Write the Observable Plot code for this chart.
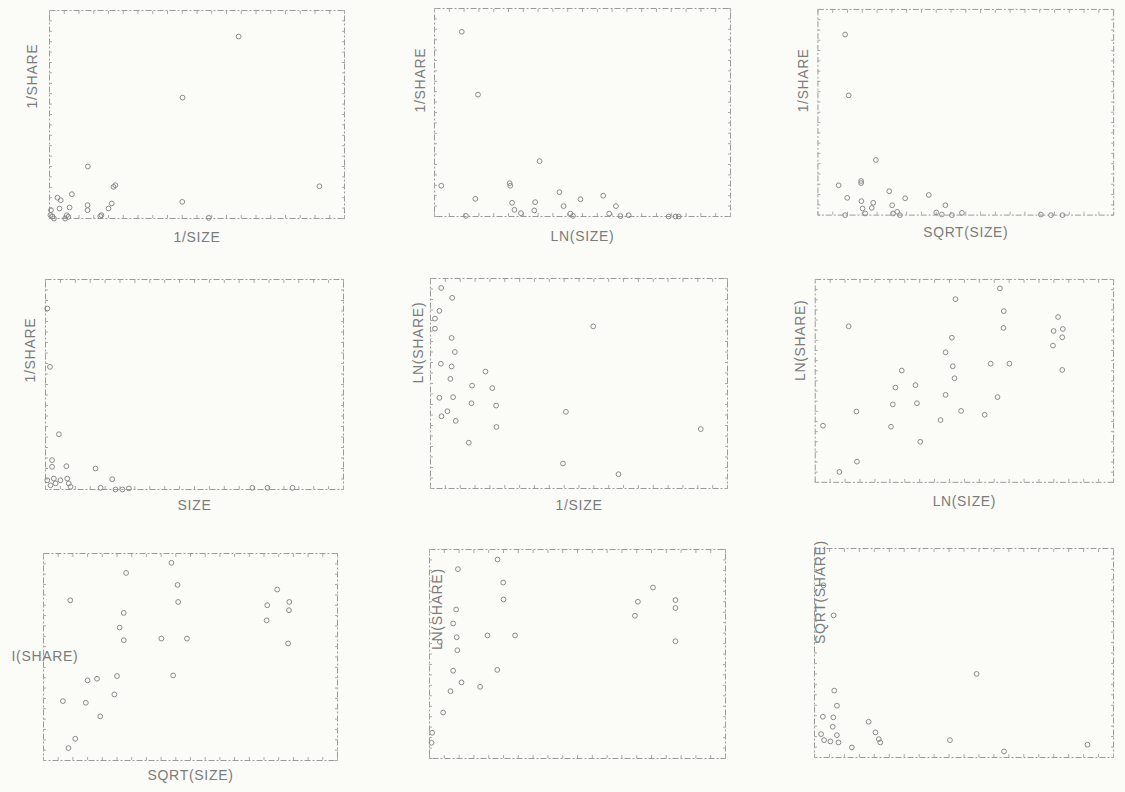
<!DOCTYPE html>
<html>
<head>
<meta charset="utf-8">
<script src="https://cdn.jsdelivr.net/npm/d3@7"></script>
<script src="https://cdn.jsdelivr.net/npm/@observablehq/plot@0.6"></script>
<style>
  html, body { margin: 0; padding: 0; background: #fbfbf8; overflow: hidden; }
  #root { position: relative; width: 1125px; height: 792px; }
  .cell { position: absolute; }
  .cell svg { background: transparent !important; overflow: visible; }
  .cell svg text.lbl, .cell svg g.lbl text { letter-spacing: 0.7px; }
</style>
</head>
<body>
<div id="root"></div>
<script>
// Values, as percent of each panel's frame (0-100).
// Panel 1: 1/SHARE vs 1/SIZE
const p1x = [64.1, 45.1, 91.5, 54.0, 22.3, 21.7, 13.0, 45.0, 7.6, 2.7, 3.8, 6.8, 12.9, 12.9, 21.1, 20.0, 17.6, 17.2, 0.5, 1.0, 1.5, 5.9, 6.4, 5.3, 3.4, 0.3];
const p1y = [87.5, 58.1, 15.5, 0.3, 16.0, 15.2, 25.0, 8.0, 11.7, 10.0, 8.8, 5.3, 6.4, 4.0, 7.2, 4.8, 1.6, 1.1, 4.0, 1.0, 0.0, 1.6, 0.8, 0.0, 4.8, 1.6];
// Panel 2: 1/SHARE vs LN(SIZE)
const p2x = [9.2, 14.7, 35.5, 2.3, 25.4, 25.6, 13.8, 26.2, 27.0, 29.2, 10.6, 34.0, 33.7, 42.2, 43.6, 45.9, 46.8, 49.3, 57.0, 61.3, 59.0, 62.8, 65.6, 79.1, 81.4, 82.5];
const p2y = [88.8, 58.6, 26.6, 14.8, 16.0, 14.8, 8.5, 6.6, 3.2, 1.6, 0.3, 6.9, 2.9, 11.7, 5.0, 1.4, 0.3, 8.3, 10.0, 5.0, 1.4, 0.2, 0.6, 0.0, 0.0, 0.0];
// Panel 3: 1/SHARE vs SQRT(SIZE)
const p3x = [9.2, 10.4, 19.6, 7.0, 14.6, 14.6, 9.9, 24.1, 29.5, 37.5, 43.1, 18.7, 18.2, 15.1, 16.0, 25.1, 25.4, 26.8, 27.7, 9.2, 40.0, 41.9, 45.3, 48.7, 75.4, 78.8, 82.7, 14.7];
const p3y = [87.8, 58.2, 26.8, 14.5, 16.6, 15.6, 8.4, 11.6, 8.2, 9.8, 4.8, 6.0, 3.5, 3.2, 0.8, 4.8, 0.8, 1.6, 0.0, 0.0, 1.3, 0.3, 0.0, 1.1, 0.3, 0.0, 0.0, 6.8];
// Panel 4: 1/SHARE vs SIZE
const p4x = [0.6, 1.5, 4.5, 7.0, 2.2, 2.2, 0.6, 1.7, 2.8, 3.4, 7.3, 7.8, 8.4, 18.5, 22.4, 23.5, 25.8, 28.0, 16.8, 69.4, 74.5, 82.9, 5.0];
const p4y = [86.2, 58.4, 26.3, 11.1, 14.0, 10.8, 4.4, 2.0, 5.2, 2.9, 5.2, 2.9, 1.3, 0.8, 4.9, 0.0, 0.0, 0.5, 10.0, 0.8, 0.8, 0.8, 4.4];
// Panel 5: LN(SHARE) vs 1/SIZE
const p5x = [3.6, 7.3, 3.0, 1.5, 1.5, 7.1, 8.2, 3.5, 7.1, 6.7, 18.5, 14.0, 20.8, 3.0, 7.6, 13.8, 22.1, 5.7, 3.7, 8.5, 22.2, 12.9, 45.6, 54.8, 44.6, 63.3, 91.0];
const p5y = [95.5, 90.8, 84.6, 80.9, 76.1, 71.7, 65.0, 59.4, 58.1, 52.2, 55.7, 49.0, 47.8, 43.2, 43.5, 40.6, 39.5, 36.8, 34.4, 32.2, 29.3, 21.8, 36.5, 77.2, 11.9, 6.8, 28.3];
// Panel 6: LN(SHARE) vs LN(SIZE)
const p6x = [61.9, 47.0, 63.2, 81.4, 11.2, 63.1, 79.9, 83.0, 82.8, 45.8, 79.7, 43.7, 58.8, 65.1, 46.1, 29.0, 82.8, 46.7, 33.6, 26.9, 43.7, 61.1, 26.0, 34.1, 13.8, 48.9, 56.8, 42.0, 2.6, 25.4, 35.2, 14.0, 8.1];
const p6y = [95.6, 90.3, 84.4, 81.5, 76.9, 76.1, 74.6, 75.6, 71.5, 71.3, 67.4, 64.1, 58.5, 58.5, 57.2, 55.1, 55.4, 51.3, 47.9, 46.7, 43.1, 42.0, 38.4, 39.0, 34.9, 35.2, 33.3, 30.7, 27.9, 27.4, 20.0, 10.2, 5.1];
// Panel 7: LN(SHARE) vs SQRT(SIZE)
const p7x = [43.5, 28.1, 45.6, 79.5, 9.1, 45.8, 83.6, 76.1, 83.5, 27.3, 75.9, 25.9, 27.3, 40.1, 48.8, 83.2, 25.0, 44.1, 15.0, 18.2, 24.1, 6.6, 14.4, 19.3, 10.8, 8.5];
const p7y = [95.5, 90.6, 84.8, 82.6, 77.4, 76.6, 76.6, 75.0, 72.6, 71.3, 67.7, 64.2, 58.1, 58.9, 58.9, 56.5, 40.8, 41.1, 38.7, 39.5, 31.9, 28.7, 27.9, 21.3, 10.5, 6.0];
// Panel 8: LN(SHARE) vs SIZE
const p8x = [23.0, 9.6, 24.9, 75.5, 25.0, 70.4, 83.1, 83.1, 9.0, 69.4, 8.0, 19.6, 28.9, 9.2, 83.1, 3.5, 9.4, 22.9, 8.0, 10.8, 17.1, 7.1, 4.6, 0.9, 0.7];
const p8y = [95.2, 90.6, 84.2, 81.8, 76.1, 75.0, 75.8, 72.0, 71.3, 68.3, 64.6, 58.9, 58.9, 58.0, 56.1, 55.8, 51.8, 42.4, 42.0, 36.4, 34.3, 32.2, 22.0, 12.3, 7.5];
// Panel 9: SQRT(SHARE) vs SIZE
const p9x = [3.0, 6.4, 54.2, 6.6, 7.5, 2.8, 6.3, 6.1, 18.1, 20.4, 21.5, 22.0, 2.2, 3.2, 7.5, 8.0, 5.3, 12.5, 45.3, 63.4, 91.3];
const p9y = [82.4, 68.0, 40.0, 32.0, 24.8, 19.5, 19.2, 14.7, 17.1, 12.0, 8.8, 7.2, 11.2, 8.3, 10.7, 7.2, 7.7, 4.8, 8.3, 2.9, 6.1];

const xLabels = ["1/SIZE", "LN(SIZE)", "SQRT(SIZE)", "SIZE", "1/SIZE", "LN(SIZE)", "SQRT(SIZE)", null, null];
const yLabels = ["1/SHARE", "1/SHARE", "1/SHARE", "1/SHARE", "LN(SHARE)", "LN(SHARE)", "I(SHARE)", "LN(SHARE)", "SQRT(SHARE)"];
const xs = [p1x, p2x, p3x, p4x, p5x, p6x, p7x, p8x, p9x];
const ys = [p1y, p2y, p3y, p4y, p5y, p6y, p7y, p8y, p9y];

// Layout (frame edges in page pixels) – styling only
const frames = [
  {L: 49, T: 10, W: 295, H: 208, xdy: 23, ydx: -17, ydy: -6},
  {L: 434, T: 8, W: 296, H: 208, xdy: 24, ydx: -14, ydy: 0},
  {L: 818, T: 9, W: 299, H: 208, xdy: 22, ydx: -15, ydy: 0},
  {L: 45, T: 279, W: 298, H: 210, xdy: 20, ydx: -15, ydy: -2},
  {L: 430, T: 278, W: 297, H: 210, xdy: 21, ydx: -12, ydy: 0},
  {L: 815, T: 279, W: 300, H: 204, xdy: 24, ydx: -15, ydy: 0},
  {L: 43, T: 553, W: 294, H: 207, xdy: 19, ydx: 0, ydy: 0, horiz: true},
  {L: 429, T: 549, W: 296, H: 209, xdy: 0, ydx: 8, ydy: -4},
  {L: 814, T: 548, W: 299, H: 209, xdy: 0, ydx: 6, ydy: -9}
];

const mL = 50, mR = 12, mT = 6, mB = 34;
const grey = "#8a8a8a";
const labelColor = "#7c7c7c";
const font = "Arial, 'Liberation Sans', sans-serif";
const root = document.getElementById("root");

frames.forEach((f, i) => {
  const data = xs[i].map((x, k) => ({x, y: ys[i][k]}));
  const marks = [
    Plot.frame({stroke: "#9a9a9a", strokeDasharray: "6,2,2,2", strokeWidth: 1}),
    Plot.axisX({anchor: "bottom", ticks: 18, tickSize: -3, tickFormat: () => "", label: null, stroke: "#aaa"}),
    Plot.axisX({anchor: "top", ticks: 18, tickSize: -3, tickFormat: () => "", label: null, stroke: "#aaa"}),
    Plot.axisY({anchor: "left", ticks: 24, tickSize: -3, tickFormat: () => "", label: null, stroke: "#aaa"}),
    Plot.axisY({anchor: "right", ticks: 24, tickSize: -3, tickFormat: () => "", label: null, stroke: "#aaa"}),
    Plot.dot(data, {x: "x", y: "y", r: 2.4, stroke: grey, strokeWidth: 1, fill: "none"})
  ];
  if (xLabels[i]) {
    marks.push(Plot.text([xLabels[i]], {frameAnchor: "bottom", dy: f.xdy, fontSize: 14, fill: labelColor, fontFamily: font, className: "lbl"}));
  }
  if (f.horiz) {
    marks.push(Plot.text([yLabels[i]], {frameAnchor: "left", textAnchor: "end", dx: 35, dy: 0, fontSize: 14, fill: labelColor, fontFamily: font, className: "lbl"}));
  } else {
    marks.push(Plot.text([yLabels[i]], {frameAnchor: "left", rotate: -90, dx: f.ydx, dy: f.ydy, fontSize: 14, fill: labelColor, fontFamily: font, className: "lbl"}));
  }
  const chart = Plot.plot({
    width: f.W + mL + mR,
    height: f.H + mT + mB,
    marginLeft: mL, marginRight: mR, marginTop: mT, marginBottom: mB,
    x: {domain: [0, 100], axis: null},
    y: {domain: [0, 100], axis: null},
    style: {background: "transparent", overflow: "visible"},
    marks
  });
  const div = document.createElement("div");
  div.className = "cell";
  div.style.left = (f.L - mL) + "px";
  div.style.top = (f.T - mT) + "px";
  div.appendChild(chart);
  root.appendChild(div);
});
</script>
</body>
</html>
